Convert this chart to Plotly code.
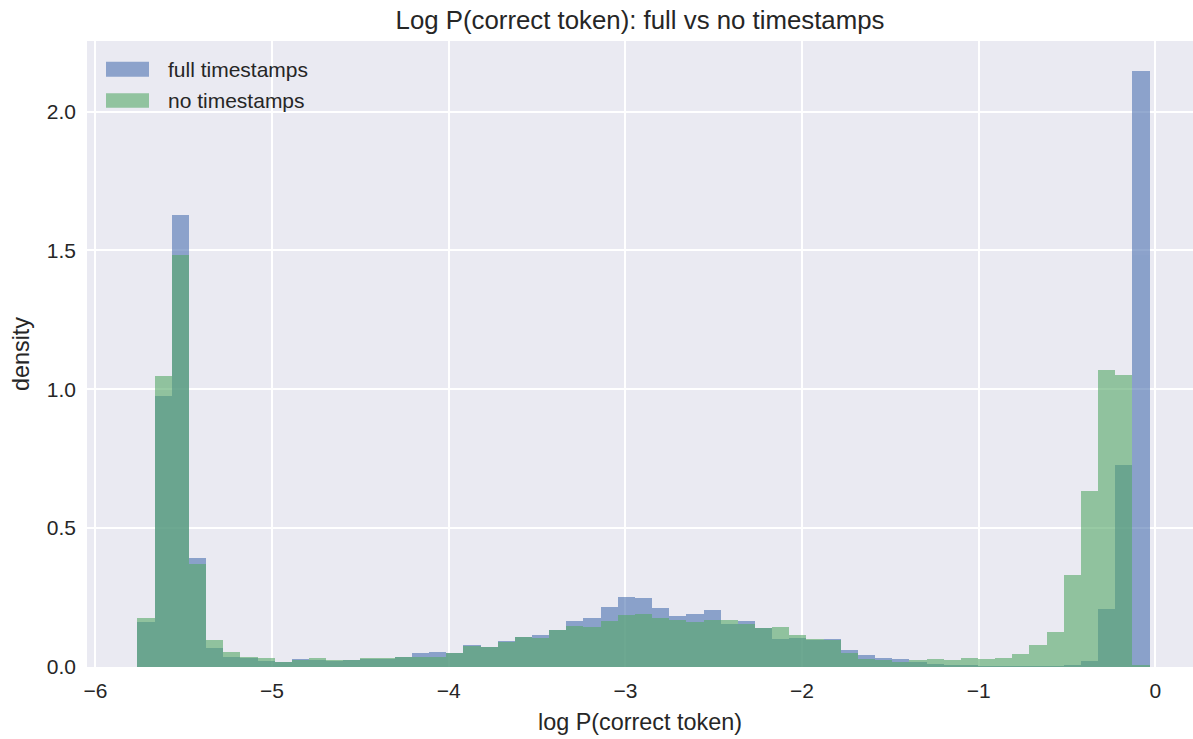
import numpy as np
import plotly.graph_objects as go

# Histogram of log P(correct token): 59 equal-width bins, density-normalised
LOG_P_MIN = -5.762
LOG_P_MAX = -0.033
N_BINS = 59

full_density = [
    0.163, 0.974, 1.629, 0.392, 0.069, 0.037, 0.034, 0.020, 0.018, 0.028,
    0.024, 0.022, 0.025, 0.029, 0.030, 0.037, 0.051, 0.054, 0.050, 0.079,
    0.072, 0.094, 0.107, 0.114, 0.133, 0.167, 0.176, 0.215, 0.253, 0.247,
    0.211, 0.182, 0.191, 0.205, 0.155, 0.167, 0.141, 0.101, 0.104, 0.097,
    0.101, 0.060, 0.045, 0.034, 0.028, 0.018, 0.010, 0.006, 0.004, 0.002,
    0.002, 0.002, 0.002, 0.003, 0.004, 0.021, 0.208, 0.728, 2.147,
]
no_ts_density = [
    0.176, 1.049, 1.483, 0.372, 0.096, 0.054, 0.036, 0.031, 0.018, 0.024,
    0.031, 0.026, 0.025, 0.031, 0.032, 0.037, 0.035, 0.037, 0.052, 0.074,
    0.072, 0.091, 0.109, 0.103, 0.133, 0.146, 0.145, 0.165, 0.188, 0.191,
    0.176, 0.169, 0.161, 0.169, 0.170, 0.155, 0.141, 0.143, 0.116, 0.101,
    0.098, 0.050, 0.029, 0.024, 0.019, 0.024, 0.028, 0.024, 0.031, 0.028,
    0.031, 0.047, 0.080, 0.127, 0.330, 0.633, 1.069, 1.052, 0.007,
]
series_names = ["full timestamps", "no timestamps"]

x_tick_vals = [-6, -5, -4, -3, -2, -1, 0]
x_tick_text = ["\u22126", "\u22125", "\u22124", "\u22123", "\u22122", "\u22121", "0"]
y_tick_vals = [0.0, 0.5, 1.0, 1.5, 2.0]
y_tick_text = ["0.0", "0.5", "1.0", "1.5", "2.0"]

edges = np.linspace(LOG_P_MIN, LOG_P_MAX, N_BINS + 1)
centers = (edges[:-1] + edges[1:]) / 2
widths = np.diff(edges)

BLUE = "rgb(76,114,176)"
GREEN = "rgb(85,168,104)"
TEXT = "#262626"
FONT = "Liberation Sans, Arial, sans-serif"

W, H = 1193, 739
M_L, M_R, M_T, M_B = 87, 0, 41, 72

fig = go.Figure()
for name, vals, col in [(series_names[0], full_density, BLUE),
                        (series_names[1], no_ts_density, GREEN)]:
    fig.add_trace(go.Bar(
        x=centers, y=vals, width=widths, name=name,
        marker=dict(color=col, line=dict(width=0)),
        opacity=0.6, showlegend=False,
    ))

# Legend drawn as patches + labels in the upper-left corner of the axes
plot_w = W - M_L - M_R
plot_h = H - M_T - M_B


def px_x(p):
    return (p - M_L) / plot_w


def px_y(p):
    return (H - M_B - p) / plot_h


legend_rows = [(series_names[0], BLUE, 61.7, 76.7), (series_names[1], GREEN, 93.3, 107.7)]
shapes, annotations = [], []
for label, col, top, bot in legend_rows:
    shapes.append(dict(
        type="rect", xref="paper", yref="paper",
        x0=px_x(106), x1=px_x(149), y0=px_y(bot), y1=px_y(top),
        fillcolor=col, opacity=0.6, line=dict(width=0), layer="above",
    ))
    annotations.append(dict(
        text=label, xref="paper", yref="paper",
        x=px_x(166), y=px_y((top + bot) / 2),
        xanchor="left", yanchor="middle", showarrow=False,
        font=dict(size=21, color=TEXT, family=FONT),
    ))

fig.update_layout(
    width=W, height=H,
    margin=dict(l=M_L, r=M_R, t=M_T, b=M_B, pad=0),
    paper_bgcolor="white", plot_bgcolor="#EAEAF2",
    barmode="overlay", bargap=0,
    font=dict(family=FONT, color=TEXT),
    title=dict(
        text="Log P(correct token): full vs no timestamps",
        x=0.5, xref="paper", xanchor="center",
        y=1 - 20 / H, yref="container", yanchor="middle",
        font=dict(size=25.8, color=TEXT, family=FONT),
    ),
    xaxis=dict(
        range=[-6.0476, 0.213], tickvals=x_tick_vals, ticktext=x_tick_text,
        showgrid=True, gridcolor="white", gridwidth=2.2, zeroline=False,
        showline=False, ticks="", ticklabelstandoff=9,
        tickfont=dict(size=21, color=TEXT, family=FONT),
        title=dict(text="log P(correct token)", standoff=12,
                   font=dict(size=23.4, color=TEXT, family=FONT)),
    ),
    yaxis=dict(
        range=[0, 2.254], tickvals=y_tick_vals, ticktext=y_tick_text,
        showgrid=True, gridcolor="white", gridwidth=2.2, zeroline=False,
        showline=False, ticks="", ticklabelstandoff=10,
        tickfont=dict(size=21, color=TEXT, family=FONT),
        title=dict(text="density", standoff=10,
                   font=dict(size=23.4, color=TEXT, family=FONT)),
    ),
    shapes=shapes, annotations=annotations,
)

fig.write_html("out.html")
